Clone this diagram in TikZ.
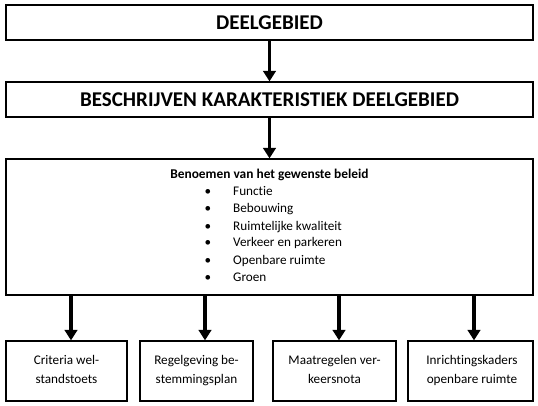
\documentclass[tikz,border=0pt]{standalone}
\usepackage{fontspec}
\setmainfont{Carlito}[Ligatures=NoCommon]
\usetikzlibrary{arrows.meta}
\begin{document}
\begin{tikzpicture}[x=1pt,y=-1pt,
  box/.style={draw=black,line width=1.2pt,inner sep=0pt},
  titletext/.style={font=\fontsize{21}{25}\selectfont\bfseries},
  itemtext/.style={font=\fontsize{13.2}{15}\selectfont,inner sep=0pt,anchor=base west},
  bullettext/.style={font=\fontsize{13.2}{15}\selectfont,inner sep=0pt,anchor=base},
  leaftext/.style={font=\fontsize{13.2}{15}\selectfont,inner sep=0pt,anchor=base},
  arr/.style={line width=3.8pt,-{Triangle[length=10.5pt,width=12.5pt]}}]
\useasboundingbox (0,0) rectangle (538,406);
% top boxes
\node[box,minimum width=527pt,minimum height=35pt,titletext] (d1) at (269.5,22.5) {DEELGEBIED};
\node[box,minimum width=527pt,minimum height=35pt,titletext] (d2) at (269.5,99.5) {BESCHRIJVEN KARAKTERISTIEK DEELGEBIED};
\node[box,minimum width=527pt,minimum height=136pt] (m) at (269.5,227) {};
% content of main box
\node[font=\fontsize{13.4}{15}\selectfont\bfseries,inner sep=0pt,anchor=base] (h) at (269.5,178.5) {Benoemen van het gewenste beleid};
\node[bullettext] (p1) at (208,196) {\textbullet};
\node[itemtext] (i1) at (233,196) {Functie};
\node[bullettext] (p2) at (208,213) {\textbullet};
\node[itemtext] (i2) at (233,213) {Bebouwing};
\node[bullettext] (p3) at (208,230) {\textbullet};
\node[itemtext] (i3) at (233,230) {Ruimtelijke kwaliteit};
\node[bullettext] (p4) at (208,247) {\textbullet};
\node[itemtext] (i4) at (233,247) {Verkeer en parkeren};
\node[bullettext] (p5) at (208,264) {\textbullet};
\node[itemtext] (i5) at (233,264) {Openbare ruimte};
\node[bullettext] (p6) at (208,281) {\textbullet};
\node[itemtext] (i6) at (233,281) {Groen};
% bottom boxes
\node[box,minimum width=121pt,minimum height=60pt] (b1) at (66.5,371) {};
\node[box,minimum width=113pt,minimum height=60pt] (b2) at (196.5,371) {};
\node[box,minimum width=123pt,minimum height=60pt] (b3) at (334.5,371) {};
\node[box,minimum width=125pt,minimum height=60pt] (b4) at (470.5,371) {};
\node[leaftext] (l1a) at (66.5,364.5) {Criteria wel-};
\node[leaftext] (l1b) at (66.5,383.5) {standstoets};
\node[leaftext] (l2a) at (196.5,364.5) {Regelgeving be-};
\node[leaftext] (l2b) at (196.5,383.5) {stemmingsplan};
\node[leaftext] (l3a) at (334.5,364.5) {Maatregelen ver-};
\node[leaftext] (l3b) at (334.5,383.5) {keersnota};
\node[leaftext] (l4a) at (472,364.5) {Inrichtingskaders};
\node[leaftext] (l4b) at (472,383.5) {openbare ruimte};
% arrows
\draw[arr] (d1.south) -- (d2.north);
\draw[arr] (d2.south) -- (m.north);
\coordinate (a1) at (71,0);
\coordinate (a2) at (205,0);
\coordinate (a3) at (339,0);
\coordinate (a4) at (474,0);
\draw[arr] (m.south -| a1) -- (b1.north -| a1);
\draw[arr] (m.south -| a2) -- (b2.north -| a2);
\draw[arr] (m.south -| a3) -- (b3.north -| a3);
\draw[arr] (m.south -| a4) -- (b4.north -| a4);
\end{tikzpicture}
\end{document}
